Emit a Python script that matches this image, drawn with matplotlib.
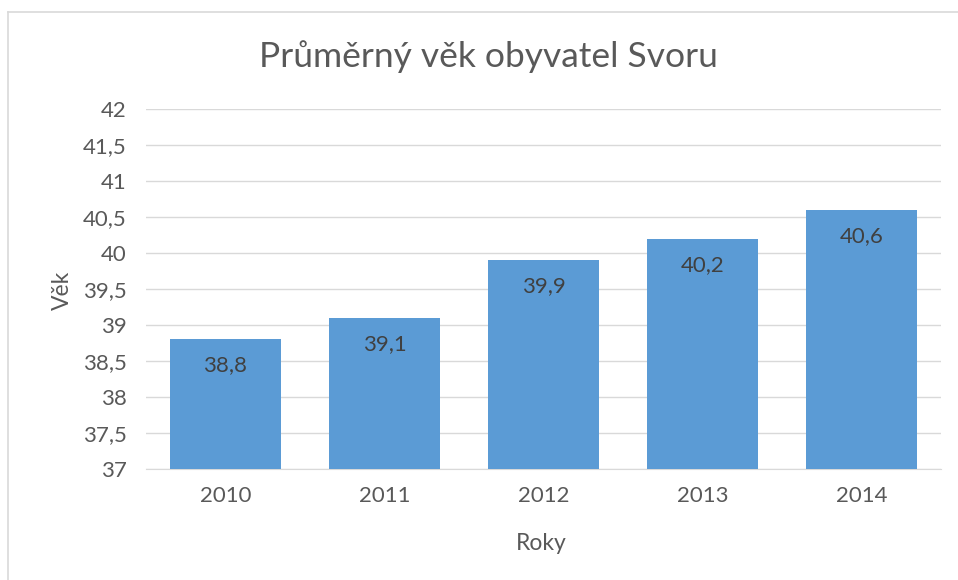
import matplotlib.pyplot as plt
from matplotlib.lines import Line2D

plt.rcParams["font.family"] = ["Lato", "DejaVu Sans"]

roky = ["2010", "2011", "2012", "2013", "2014"]
vek = [38.8, 39.1, 39.9, 40.2, 40.6]
y_ticks = [37, 37.5, 38, 38.5, 39, 39.5, 40, 40.5, 41, 41.5, 42]

W, H = 958, 580
fig = plt.figure(figsize=(W / 100, H / 100), dpi=100)

# rámeček grafu (Excel)
fig.add_artist(Line2D([8 / W, 8 / W], [0, 1 - 12 / H], color="#d9d9d9", lw=1.2))
fig.add_artist(Line2D([8 / W, 1], [1 - 12 / H, 1 - 12 / H], color="#d9d9d9", lw=1.2))

ax = fig.add_axes([146 / W, 1 - 469 / H, (941 - 146) / W, (469 - 109) / H])
x = range(len(roky))
bars = ax.bar(x, vek, width=0.7, color="#5b9bd5", zorder=3, bottom=0)
ax.set_ylim(37, 42)
ax.set_xlim(-0.5, len(roky) - 0.5)
ax.set_yticks(y_ticks)
ax.set_yticklabels([f"{t:g}".replace(".", ",") for t in y_ticks])
ax.set_xticks(list(x))
ax.set_xticklabels(roky)
ax.grid(axis="y", color="#d9d9d9", lw=1, zorder=0)
for s in ["top", "right", "left"]:
    ax.spines[s].set_visible(False)
ax.spines["bottom"].set_color("#d9d9d9")
ax.tick_params(length=0, labelsize=16, colors="#595959")
ax.tick_params(axis="y", pad=14)
ax.tick_params(axis="x", pad=12)

for b, v in zip(bars, vek):
    ax.annotate(f"{v:g}".replace(".", ","), (b.get_x() + b.get_width() / 2, v),
                xytext=(0, -26), textcoords="offset pixels", ha="center", va="center",
                fontsize=16, color="#404040")

fig.text(488 / W, 1 - 57 / H, "Průměrný věk obyvatel Svoru", ha="center", va="center",
         fontsize=25.5, color="#595959")
fig.text(62 / W, 1 - 290 / H, "Věk", ha="center", va="center", rotation=90,
         fontsize=16.5, color="#595959")
fig.text(541 / W, 1 - 543 / H, "Roky", ha="center", va="center",
         fontsize=16.5, color="#595959")

fig.savefig("out.png", dpi=100)
